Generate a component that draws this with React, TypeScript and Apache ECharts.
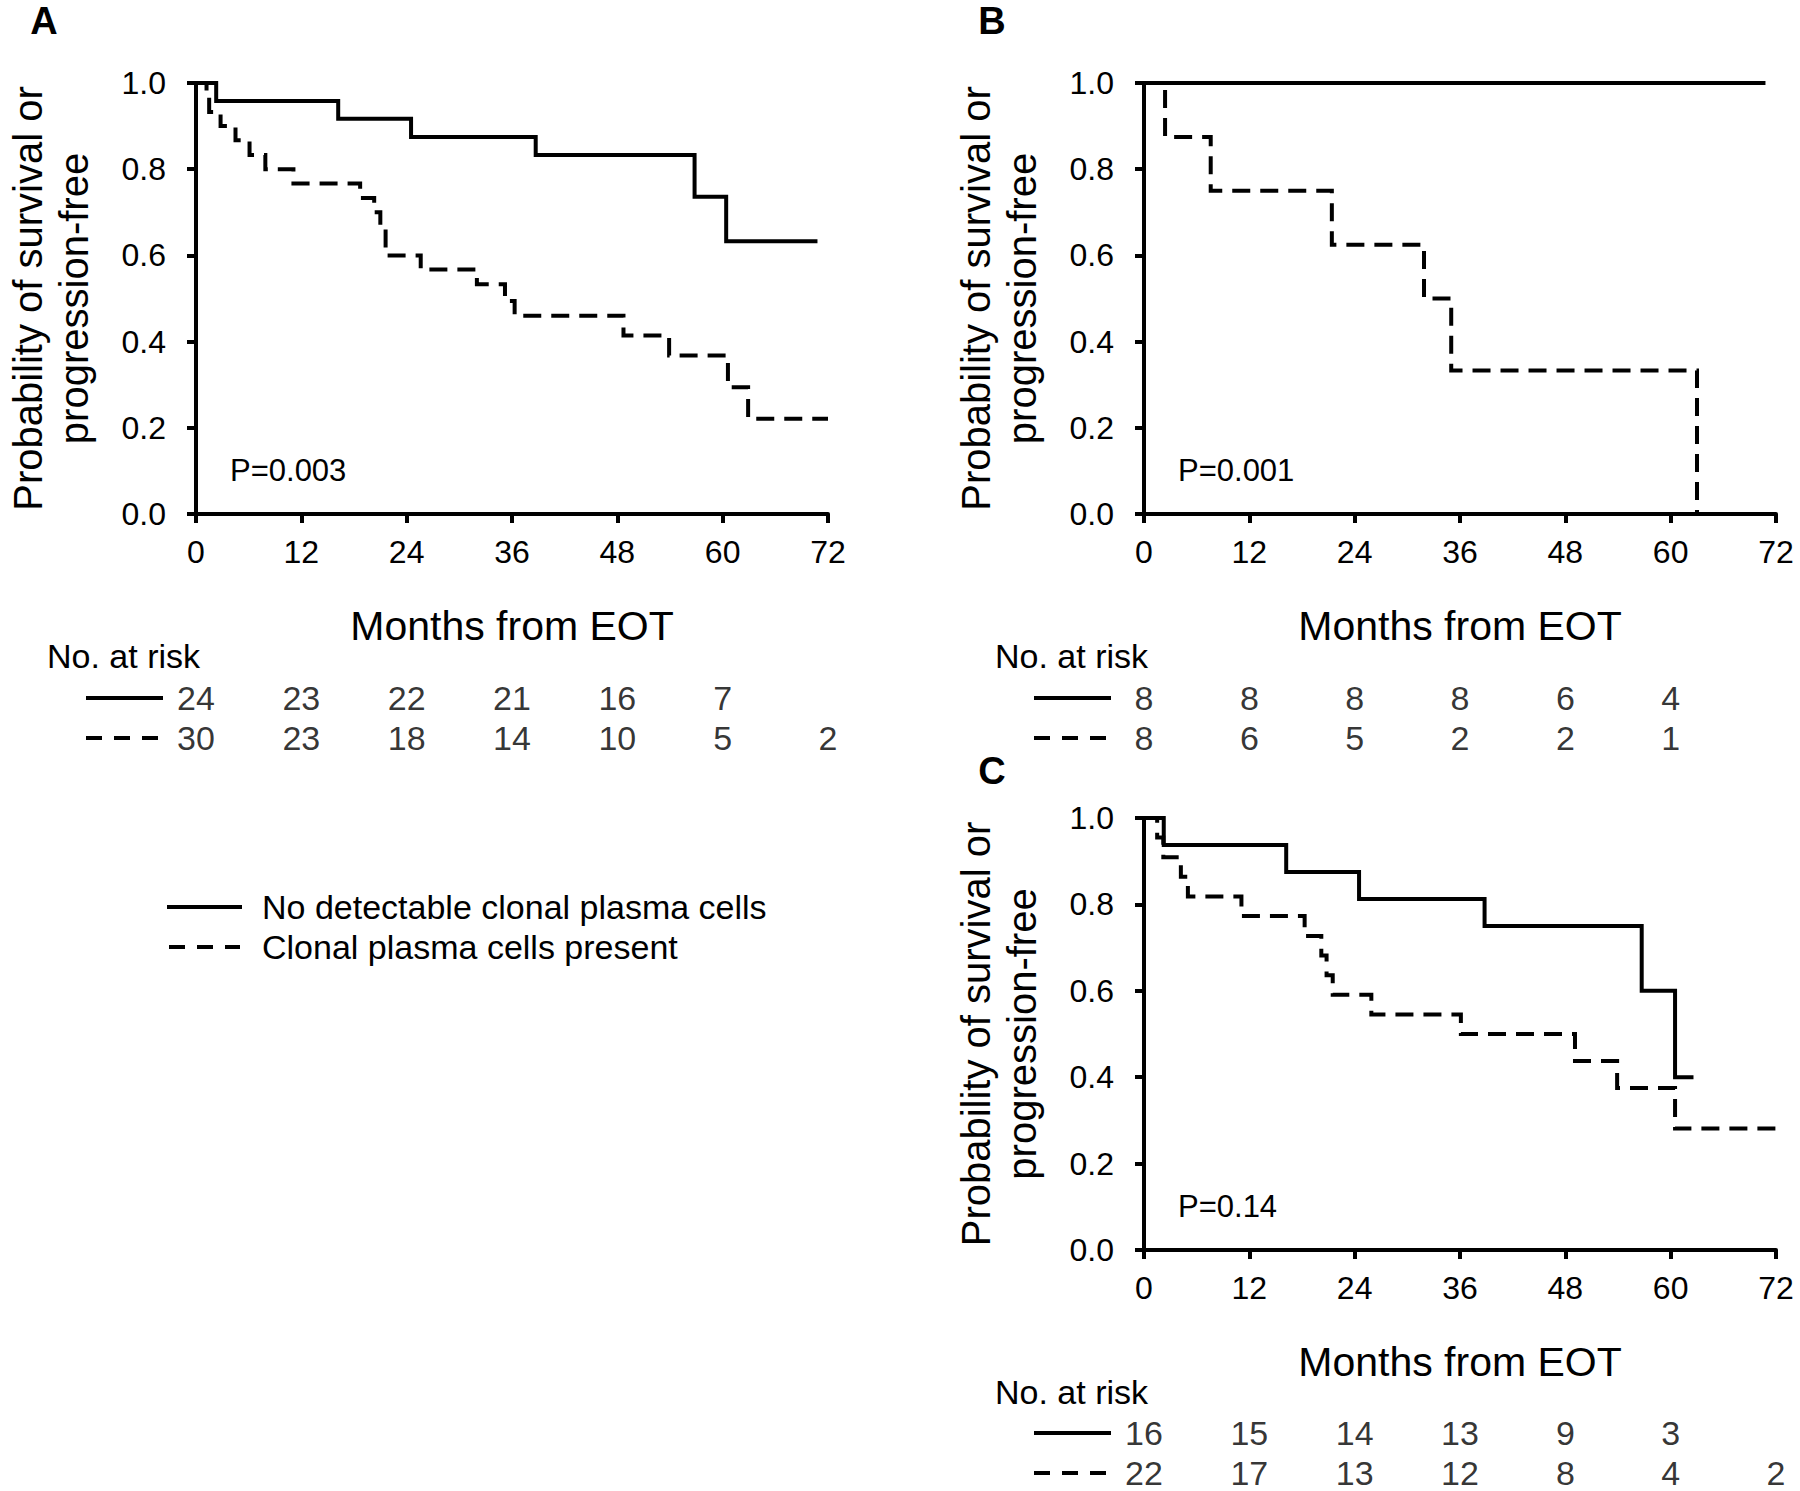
import React, { useEffect, useRef } from "react";
import * as echarts from "echarts";

// ---------- data ----------
const monthTicks = [0, 12, 24, 36, 48, 60, 72];

// Panel A
const aSolidT = [0, 2.3, 16.2, 24.5, 38.7, 56.8, 60.4, 70.8];
const aSolidS = [1, 0.958, 0.917, 0.875, 0.833, 0.736, 0.633, 0.633];
const aDashT = [0, 1.2, 1.5, 2.8, 4.5, 6.1, 7.9, 11.1, 18.7, 20.3, 21.0, 21.6, 25.6, 32.0, 35.2, 36.3, 48.7, 53.9, 60.6, 62.9, 72];
const aDashS = [1, 0.967, 0.933, 0.9, 0.867, 0.833, 0.8, 0.767, 0.733, 0.7, 0.667, 0.6, 0.567, 0.533, 0.494, 0.46, 0.414, 0.368, 0.294, 0.221, 0.221];

// Panel B
const bSolidT = [0, 70.8];
const bSolidS = [1, 1];
const bDashT = [0, 2.4, 7.6, 21.4, 31.9, 35.0, 63.0];
const bDashS = [1, 0.875, 0.75, 0.625, 0.5, 0.333, 0];

// Panel C
const cSolidT = [0, 2.25, 16.2, 24.5, 38.8, 56.7, 60.5, 62.6];
const cSolidS = [1, 0.9375, 0.875, 0.8125, 0.75, 0.6, 0.4, 0.4];
const cDashT = [0, 1.5, 2.2, 4.2, 5.0, 11.1, 18.3, 20.2, 20.8, 21.5, 25.9, 36.1, 49.1, 53.9, 60.5, 72];
const cDashS = [1, 0.955, 0.909, 0.864, 0.818, 0.773, 0.727, 0.682, 0.636, 0.591, 0.545, 0.5, 0.4375, 0.375, 0.281, 0.281];

// Numbers at risk
const aRiskSolid = [24, 23, 22, 21, 16, 7];
const aRiskDash = [30, 23, 18, 14, 10, 5, 2];
const bRiskSolid = [8, 8, 8, 8, 6, 4];
const bRiskDash = [8, 6, 5, 2, 2, 1];
const cRiskSolid = [16, 15, 14, 13, 9, 3];
const cRiskDash = [22, 17, 13, 12, 8, 4, 2];

const panelLetters = ["A", "B", "C"];
const pValues = ["P=0.003", "P=0.001", "P=0.14"];
const legendLabels = ["No detectable clonal plasma cells", "Clonal plasma cells present"];
const yTitleLines = ["Probability of survival or", "progression-free"];
const xTitle = "Months from EOT";
const riskTitle = "No. at risk";

// ---------- layout ----------
const FONT = '"Liberation Sans", Arial, Helvetica, sans-serif';
const PW = 632;
const panels = [
  { left: 196, top: 83, height: 431, tableTop: 698, letterY: 21 },
  { left: 1144, top: 83, height: 431, tableTop: 698, letterY: 21 },
  { left: 1144, top: 818, height: 432, tableTop: 1433, letterY: 771 },
];

const curves = [
  { solid: [aSolidT, aSolidS], dash: [aDashT, aDashS], risk: [aRiskSolid, aRiskDash] },
  { solid: [bSolidT, bSolidS], dash: [bDashT, bDashS], risk: [bRiskSolid, bRiskDash] },
  { solid: [cSolidT, cSolidS], dash: [cDashT, cDashS], risk: [cRiskSolid, cRiskDash] },
];

const zip = (t: number[], s: number[]) => t.map((x, i) => [x, s[i]]);

function buildOption() {
  const grid: any[] = [];
  const xAxis: any[] = [];
  const yAxis: any[] = [];
  const series: any[] = [];
  const graphic: any[] = [];

  const txt = (text: string, x: number, y: number, size: number, align = "left", extra: any = {}) => ({
    type: "text",
    x,
    y,
    rotation: extra.rotation || 0,
    style: {
      text,
      fill: "#000",
      fontSize: size,
      fontFamily: FONT,
      fontWeight: extra.bold ? "bold" : "normal",
      align,
      verticalAlign: "middle",
    },
  });
  const line = (x1: number, y1: number, x2: number, y2: number, dash: boolean) => ({
    type: "line",
    shape: { x1, y1, x2, y2 },
    style: { stroke: "#000", lineWidth: 4, lineDash: dash ? [16, 12] : null },
  });

  panels.forEach((p, i) => {
    const gPlot = i * 2;
    const gTab = i * 2 + 1;
    grid.push({ left: p.left, top: p.top, width: PW, height: p.height });
    grid.push({ left: p.left, top: p.tableTop, width: PW, height: 40 });

    xAxis.push({
      gridIndex: gPlot,
      type: "value",
      min: 0,
      max: 72,
      interval: 12,
      axisLine: { lineStyle: { color: "#000", width: 4 } },
      axisTick: { length: 9, lineStyle: { color: "#000", width: 4 } },
      axisLabel: { fontSize: 32, color: "#000", fontFamily: FONT, margin: 22 },
      splitLine: { show: false },
    });
    yAxis.push({
      gridIndex: gPlot,
      type: "value",
      min: 0,
      max: 1,
      interval: 0.2,
      axisLine: { show: true, lineStyle: { color: "#000", width: 4 } },
      axisTick: { show: true, length: 9, lineStyle: { color: "#000", width: 4 } },
      axisLabel: { fontSize: 32, color: "#000", fontFamily: FONT, margin: 30, formatter: (v: number) => v.toFixed(1) },
      splitLine: { show: false },
    });
    xAxis.push({ gridIndex: gTab, type: "value", min: 0, max: 72, show: false });
    yAxis.push({ gridIndex: gTab, type: "value", min: 0, max: 1, show: false });

    const c = curves[i];
    series.push({
      type: "line",
      xAxisIndex: gPlot,
      yAxisIndex: gPlot,
      step: "end",
      symbol: "none",
      data: zip(c.solid[0], c.solid[1]),
      lineStyle: { color: "#000", width: 4, cap: "butt", join: "miter" },
      z: 3,
    });
    series.push({
      type: "line",
      xAxisIndex: gPlot,
      yAxisIndex: gPlot,
      step: "end",
      symbol: "none",
      data: zip(c.dash[0], c.dash[1]),
      lineStyle: { color: "#000", width: 4, type: [18, 10], cap: "butt", join: "miter" },
      z: 2,
    });

    // numbers at risk table (rows: solid at y=1, dashed at y=0)
    const tableData: any[] = [];
    c.risk[0].forEach((n, k) => tableData.push([monthTicks[k], 1, n]));
    c.risk[1].forEach((n, k) => tableData.push([monthTicks[k], 0, n]));
    series.push({
      type: "scatter",
      xAxisIndex: gTab,
      yAxisIndex: gTab,
      symbolSize: 1,
      itemStyle: { color: "rgba(0,0,0,0)" },
      silent: true,
      data: tableData,
      label: {
        show: true,
        position: "inside",
        formatter: (q: any) => String(q.value[2]),
        fontSize: 34,
        color: "#000",
        fontFamily: FONT,
      },
    });

    // texts
    const bottom = p.top + p.height;
    const cx = p.left + PW / 2;
    const cy = p.top + p.height / 2;
    graphic.push(txt(panelLetters[i], p.left - 152, p.letterY, 38, "center", { bold: true }));
    graphic.push(txt(yTitleLines[0], p.left - 168, cy, 40, "center", { rotation: Math.PI / 2 }));
    graphic.push(txt(yTitleLines[1], p.left - 122, cy, 40, "center", { rotation: Math.PI / 2 }));
    graphic.push(txt(pValues[i], p.left + 34, bottom - 44, 31, "left"));
    graphic.push(txt(xTitle, cx, bottom + 112, 41, "center"));
    graphic.push(txt(riskTitle, p.left - 149, bottom + 142, 34, "left"));
    graphic.push(line(p.left - 110, p.tableTop, p.left - 33, p.tableTop, false));
    graphic.push(line(p.left - 110, p.tableTop + 40, p.left - 37, p.tableTop + 40, true));
  });

  // legend
  graphic.push(line(167, 907, 242, 907, false));
  graphic.push(line(169, 947, 240, 947, true));
  graphic.push(txt(legendLabels[0], 262, 907, 34, "left"));
  graphic.push(txt(legendLabels[1], 262, 947, 34, "left"));

  return {
    animation: false,
    backgroundColor: "#fff",
    textStyle: { fontFamily: FONT },
    grid,
    xAxis,
    yAxis,
    series,
    graphic,
  };
}

export default function App() {
  const ref = useRef<HTMLDivElement>(null);
  useEffect(() => {
    document.body.style.margin = "0";
    const chart = echarts.init(ref.current!, null, { renderer: "svg" });
    chart.setOption(buildOption() as any);
    return () => chart.dispose();
  }, []);
  return <div ref={ref} style={{ width: 1800, height: 1491 }} />;
}
